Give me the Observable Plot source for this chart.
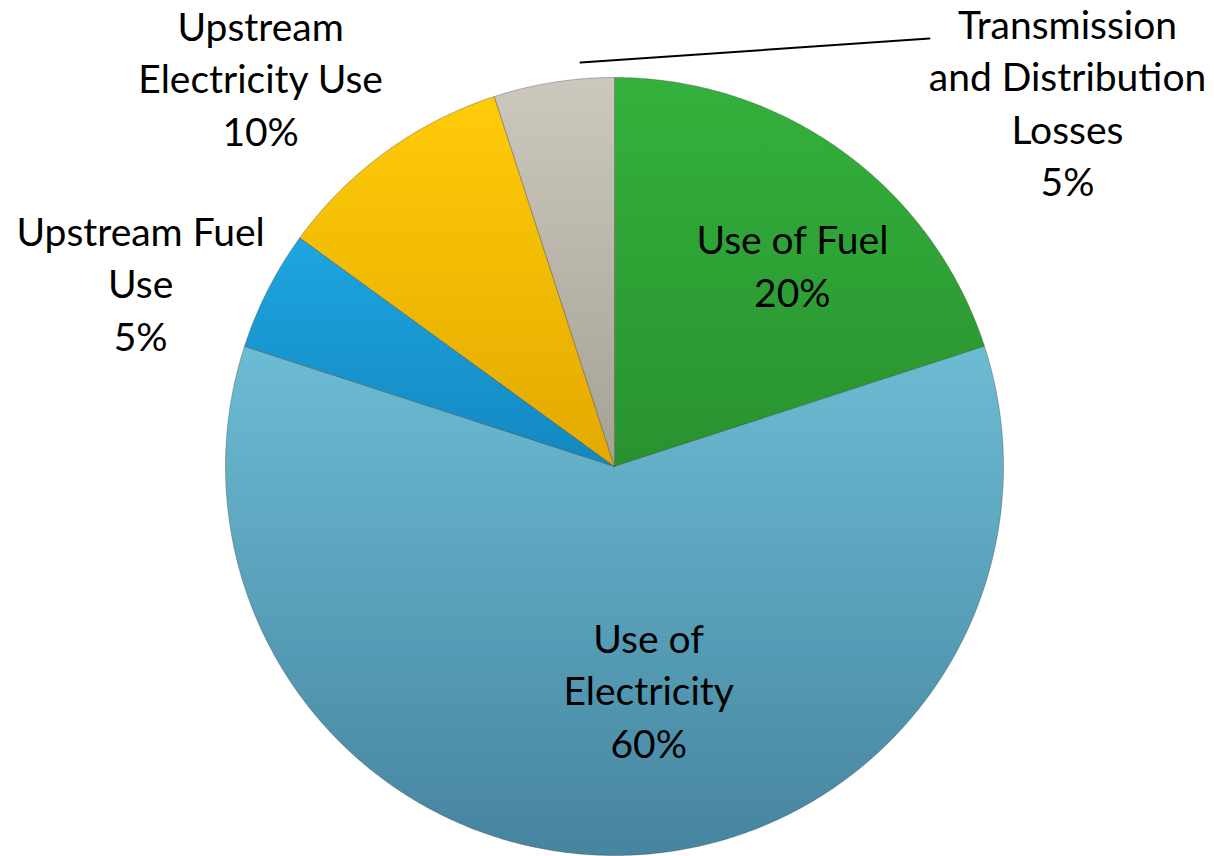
<!DOCTYPE html>
<html><head><meta charset="utf-8">
<script src="https://cdn.jsdelivr.net/npm/d3@7"></script>
<script src="https://cdn.jsdelivr.net/npm/@observablehq/plot@0.6"></script>
<style>body{margin:0;background:#fff;}</style>
</head><body><div id="chart"></div>
<script>
// ---- data ----
const categories = ["Use of Fuel", "Use of Electricity", "Upstream Fuel Use", "Upstream Electricity Use", "Transmission and Distribution Losses"];
const values = [20, 60, 5, 10, 5];
const labelLines = [["Use of Fuel"], ["Use of", "Electricity"], ["Upstream Fuel", "Use"], ["Upstream", "Electricity Use"], ["Transmission", "and Distribution", "Losses"]];
const colorsTop = ["#34b13c", "#6cbcd4", "#1ea5e0", "#ffcb08", "#cdc8bd"];
const colorsBottom = ["#28922f", "#46849f", "#1388c0", "#e3a900", "#a6a195"];

// ---- layout (not data) ----
const R = 389, CX = 614, CY = 466, W = 1214, H = 856;
const labelPolar = [[0.686, 41.8], [0.587, 171.4], [1.304, 290.9], [1.3465, 317.5], [1.4907, 51.37]];
const leader = [[1.042, 355.2], [1.366, 36.35]];

const pie = d3.pie().sort(null)(values);
const deg = Math.PI / 180;
const polar = (r, a) => ({x: r * Math.sin(a), y: r * Math.cos(a)});

const slices = pie.map((p, i) => {
  const pts = [{x: 0, y: 0}];
  const n = Math.ceil((p.endAngle - p.startAngle) / (0.4 * deg));
  for (let k = 0; k <= n; k++) pts.push(polar(1, p.startAngle + (p.endAngle - p.startAngle) * k / n));
  pts.push({x: 0, y: 0});
  return pts.map(d => ({...d, key: categories[i], idx: i}));
});

const labels = categories.map((c, i) => {
  const [r, a] = labelPolar[i];
  return {...polar(r, a * deg), text: [...labelLines[i], values[i] + "%"].join("\n")};
});
const leaderPts = leader.map(([r, a]) => polar(r, a * deg));

const FS = 39;
const chart = Plot.plot({
  width: W, height: H, margin: 0,
  x: {domain: [-CX / R, (W - CX) / R], axis: null},
  y: {domain: [-(H - CY) / R, CY / R], axis: null},
  style: {background: "white", overflow: "visible"},
  marks: [
    ...slices.map((s, i) => Plot.line(s, {x: "x", y: "y", fill: `url(#grad${i})`, stroke: "#3a3a3a", strokeOpacity: 0.35, strokeWidth: 1, curve: "linear"})),
    Plot.line(leaderPts, {x: "x", y: "y", stroke: "black", strokeWidth: 2}),
    Plot.text(labels, {x: "x", y: "y", text: "text", fontSize: FS, fontFamily: "Lato, 'Open Sans', sans-serif", lineHeight: 52.5 / FS, fill: "black", lineAnchor: "middle", dy: -4})
  ]
});

// gradient defs
const svg = d3.select(chart);
const defs = svg.insert("defs", ":first-child");
colorsTop.forEach((c, i) => {
  const g = defs.append("linearGradient").attr("id", "grad" + i).attr("x1", 0).attr("y1", 0).attr("x2", 0).attr("y2", 1);
  g.append("stop").attr("offset", "0%").attr("stop-color", c);
  g.append("stop").attr("offset", "100%").attr("stop-color", colorsBottom[i]);
});
document.getElementById("chart").appendChild(chart);
</script>
</body></html>
